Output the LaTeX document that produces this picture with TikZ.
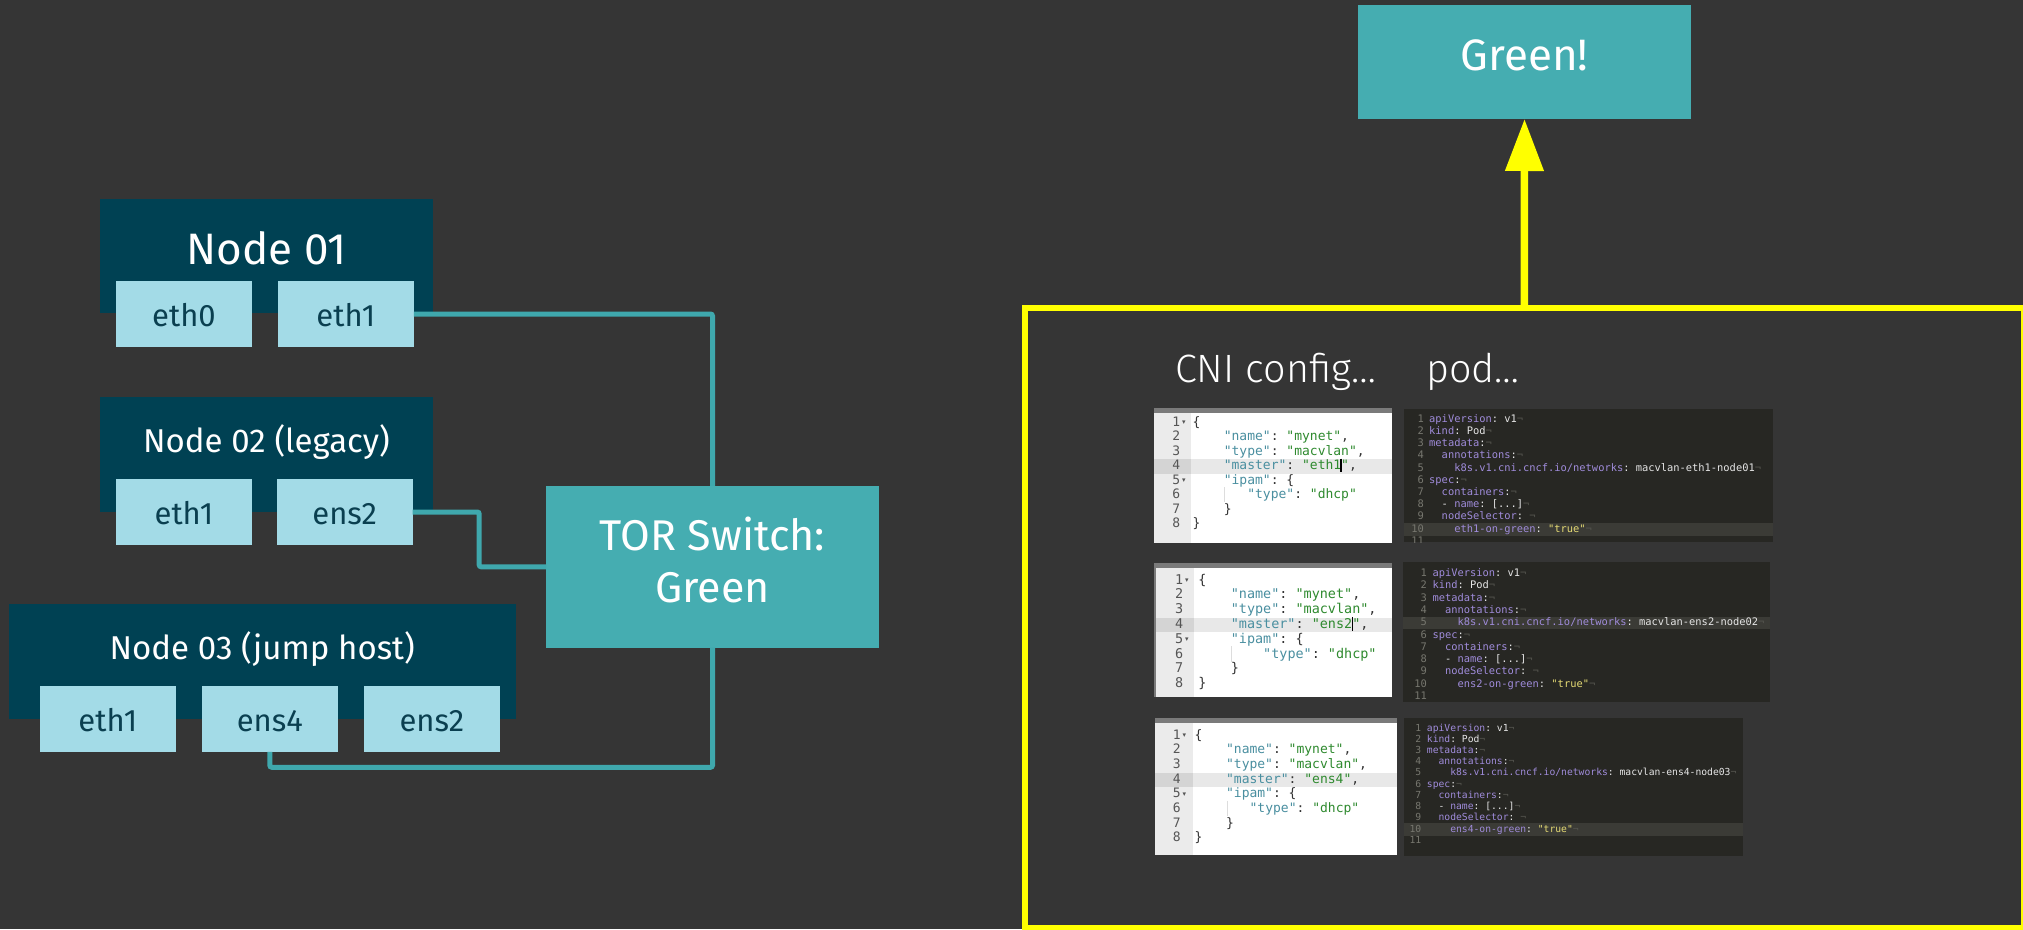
\documentclass[tikz,border=0pt]{standalone}
\usepackage{fontspec}
\setmainfont{Fira Sans}
\setmonofont{DejaVu Sans Mono}
\newfontfamily\symfont{DejaVu Sans}
\IfFontExistsTF{Fira Sans Light}{\newfontfamily\lightfont{Fira Sans Light}}{\newfontfamily\lightfont{Fira Sans}}
\usetikzlibrary{arrows.meta,calc}

\definecolor{bgc}{HTML}{353535}
\definecolor{hostc}{HTML}{004153}
\definecolor{ifc}{HTML}{A3DBE7}
\definecolor{iftext}{HTML}{0A3F50}
\definecolor{tealc}{HTML}{45ADB1}
\definecolor{wirec}{HTML}{3FA8AD}
\definecolor{ylw}{HTML}{FFFF00}
% JSON editor colours
\definecolor{jkeyc}{HTML}{4A8FA0}
\definecolor{jvalc}{HTML}{2F8A2F}
\definecolor{jpc}{HTML}{333333}
\definecolor{jnumc}{HTML}{555555}
\definecolor{jgutc}{HTML}{EBEBEB}
\definecolor{jhlc}{HTML}{E8E8E8}
\definecolor{jguthlc}{HTML}{D4D4D4}
\definecolor{jbarc}{HTML}{7A7A7A}
\definecolor{jguidec}{HTML}{DDDDDD}
% YAML editor colours
\definecolor{ybgc}{HTML}{272723}
\definecolor{yhlc}{HTML}{3B3B36}
\definecolor{ykeyc}{HTML}{A08CDB}
\definecolor{yvalc}{HTML}{E6E6E6}
\definecolor{ystrc}{HTML}{E6DB74}
\definecolor{ynumc}{HTML}{77776F}
\definecolor{yeolc}{HTML}{55554F}

\newcommand\jk[1]{\textcolor{jkeyc}{#1}}
\newcommand\jv[1]{\textcolor{jvalc}{#1}}
\newcommand\jp[1]{\textcolor{jpc}{#1}}
\newcommand\yk[1]{\textcolor{ykeyc}{#1}}
\newcommand\yv[1]{\textcolor{yvalc}{#1}}
\newcommand\ys[1]{\textcolor{ystrc}{#1}}
\newcommand\ye{\textcolor{yeolc}{¬}}

\newcounter{codeln}
\newcommand\codeline[3][]{\stepcounter{codeln}\node[#1] (cl\arabic{codeln}) at (#2) {#3};}

\tikzset{
  hostbox/.style={fill=hostc, inner sep=0pt, outer sep=0pt},
  ifbox/.style={fill=ifc, text=iftext, minimum width=136pt, minimum height=65.5pt,
    inner sep=0pt, outer sep=0pt, font=\fontsize{31}{31}\selectfont,
    text height=25pt, text depth=0pt},
  tealbox/.style={fill=tealc, inner sep=0pt, outer sep=0pt},
  bigttl/.style={text=white, inner sep=0pt, anchor=base, font=\fontsize{44}{44}\selectfont},
  hostttl/.style={text=white, inner sep=0pt, anchor=base, font=\fontsize{33}{33}\selectfont},
  lightttl/.style={text=white, inner sep=0pt, anchor=base west, font=\lightfont\fontsize{39.5}{39.5}\selectfont},
  wire/.style={draw=wirec, line width=5pt, rounded corners=2pt},
  yarrow/.style={draw=ylw, line width=7.5pt, -{Triangle[length=52pt,width=37pt]}},
  jtxt/.style={inner sep=0pt, anchor=base west, font=\ttfamily\fontsize{\jfs}{\jfs}\selectfont},
  jnum/.style={inner sep=0pt, anchor=base east, text=jnumc, font=\ttfamily\fontsize{\jfs}{\jfs}\selectfont},
  jfold/.style={inner sep=0pt, anchor=base west, text=jnumc, font=\symfont\fontsize{7}{7}\selectfont},
  ytxt/.style={inner sep=0pt, anchor=base west, font=\ttfamily\fontsize{\yfs}{\yfs}\selectfont},
  ynum/.style={inner sep=0pt, anchor=base east, text=ynumc, font=\ttfamily\fontsize{\yfs}{\yfs}\selectfont},
}

% JSON editor panel: left, top, right, bottom, gutter edge, master interface
\newcommand\jsonpanel[6]{%
  \fill[white] (#1,#2) rectangle (#3,#4);
  \fill[jgutc] (#1,#2) rectangle (#5,#4);
  \fill[jhlc] (#5,{\bl+3*\ls-10.5}) rectangle (#3,{\bl+3*\ls+4});
  \fill[jguthlc] (#1,{\bl+3*\ls-10.5}) rectangle (#5,{\bl+3*\ls+4});
  \fill[jbarc] (#1,#2) rectangle (#3,{#2+4.5});
  \draw[jguidec, line width=0.8pt] ({\xz+4*\cw+1},{\bl+4*\ls+3}) -- ({\xz+4*\cw+1},{\bl+6*\ls-11});
  \foreach \i in {1,...,8} {\codeline[jnum]{{\nr},{\bl+(\i-1)*\ls}}{\i}}
  \codeline[jfold]{{\nr+1.5},{\bl-1.5}}{▾}
  \codeline[jfold]{{\nr+1.5},{\bl+4*\ls-1.5}}{▾}
  \codeline[jtxt]{{\xz},{\bl}}{\jp{\{}}
  \codeline[jtxt]{{\xz+4*\cw},{\bl+\ls}}{\jk{"name"}\jp{: }\jv{"mynet"}\jp{,}}
  \codeline[jtxt]{{\xz+4*\cw},{\bl+2*\ls}}{\jk{"type"}\jp{: }\jv{"macvlan"}\jp{,}}
  \codeline[jtxt]{{\xz+4*\cw},{\bl+3*\ls}}{\jk{"master"}\jp{: }\jv{"#6"}\jp{,}}
  \codeline[jtxt]{{\xz+4*\cw},{\bl+4*\ls}}{\jk{"ipam"}\jp{: \{}}
  \codeline[jtxt]{{\xz+\icol*\cw},{\bl+5*\ls}}{\jk{"type"}\jp{: }\jv{"dhcp"}}
  \codeline[jtxt]{{\xz+4*\cw},{\bl+6*\ls}}{\jp{\}}}
  \codeline[jtxt]{{\xz},{\bl+7*\ls}}{\jp{\}}}
}

% YAML editor panel: left, top, right, bottom, interface, node
\newcommand\yamlpanel[6]{%
  \fill[ybgc] (#1,#2) rectangle (#3,#4);
  \begin{scope}
    \clip (#1,#2) rectangle (#3,#4);
    \fill[yhlc] (#1,{\ybl+(\yhr-1)*\yls-9}) rectangle (#3,{\ybl+(\yhr-1)*\yls+3.5});
    \foreach \i in {1,...,11} {\codeline[ynum]{{\ynr},{\ybl+(\i-1)*\yls}}{\i}}
    \codeline[ytxt]{{\yx},{\ybl}}{\yk{apiVersion}\yv{: v1}\ye}
    \codeline[ytxt]{{\yx},{\ybl+\yls}}{\yk{kind}\yv{: Pod}\ye}
    \codeline[ytxt]{{\yx},{\ybl+2*\yls}}{\yk{metadata}\yv{:}\ye}
    \codeline[ytxt]{{\yx+2*\ycw},{\ybl+3*\yls}}{\yk{annotations}\yv{:}\ye}
    \codeline[ytxt]{{\yx+4*\ycw},{\ybl+4*\yls}}{\yk{k8s.v1.cni.cncf.io/networks}\yv{: macvlan-#5-#6}\ye}
    \codeline[ytxt]{{\yx},{\ybl+5*\yls}}{\yk{spec}\yv{:}\ye}
    \codeline[ytxt]{{\yx+2*\ycw},{\ybl+6*\yls}}{\yk{containers}\yv{:}\ye}
    \codeline[ytxt]{{\yx+2*\ycw},{\ybl+7*\yls}}{\yv{- }\yk{name}\yv{: [...]}\ye}
    \codeline[ytxt]{{\yx+2*\ycw},{\ybl+8*\yls}}{\yk{nodeSelector}\yv{: }\ye}
    \codeline[ytxt]{{\yx+4*\ycw},{\ybl+9*\yls}}{\yk{#5-on-green}\yv{: }\ys{"true"}\ye}
  \end{scope}
}

\begin{document}
\begin{tikzpicture}[x=1pt,y=-1pt]
\useasboundingbox (0,0) rectangle (2023,929);
\fill[bgc] (0,0) rectangle (2023,929);

% hosts
\node[hostbox, minimum width=333pt, minimum height=114pt] (host1) at (266.5,256) {};
\node[hostbox, minimum width=333pt, minimum height=114.4pt] (host2) at (266.5,454.6) {};
\node[hostbox, minimum width=506.5pt, minimum height=114.8pt] (host3) at (262.25,661.4) {};
\node[bigttl] (host1t) at (266.5,264) {Node 01};
\node[hostttl] (host2t) at (266.5,452.5) {Node 02 (legacy)};
\node[hostttl] (host3t) at (262.25,659) {Node 03 (jump host)};

% interfaces
\node[ifbox] (h1eth0) at (184,314) {eth0};
\node[ifbox] (h1eth1) at (345.8,314) {eth1};
\node[ifbox] (h2eth1) at (184,512) {eth1};
\node[ifbox] (h2ens2) at (344.7,512) {ens2};
\node[ifbox] (h3eth1) at (107.8,719) {eth1};
\node[ifbox] (h3ens4) at (269.8,719) {ens4};
\node[ifbox] (h3ens2) at (431.8,719) {ens2};

% top-of-rack switch
\node[tealbox, minimum width=333pt, minimum height=161.7pt] (tor) at (712.5,566.8) {};
\node[bigttl, font=\fontsize{43}{43}\selectfont] (torl1) at (712.5,550.7) {TOR Switch:};
\node[bigttl, font=\fontsize{43}{43}\selectfont] (torl2) at (712.5,602) {Green};

% cabling
\draw[wire] (h1eth1.east) -| (tor.north);
\draw[wire] (h2ens2.east) -- ++(66.5,0) |- (tor.west);
\draw[wire] (h3ens4.south) -- ++(0,15.5) -| (tor.south);

% result
\node[tealbox, minimum width=333pt, minimum height=114pt] (green) at (1524.5,62) {};
\node[bigttl] (greenl) at (1524.5,70.7) {Green!};
\node[draw=ylw, line width=6pt, minimum width=999.5pt, minimum height=620pt,
      inner sep=0pt, outer sep=0pt] (frame) at (1524.25,618) {};
\draw[yarrow] (frame.north) -- (green.south);

\node[lightttl] (cnit) at (1175,382) {CNI config…};
\node[lightttl] (podt) at (1426,382) {pod…};

% CNI configurations
\def\jfs{13}\def\xz{1192.3}\def\cw{7.83}\def\nr{1180.5}\def\bl{426}\def\ls{14.57}\def\icol{7}
\jsonpanel{1154}{408}{1392}{543}{1190.7}{eth1}
\draw[black, line width=1.2pt] ({\xz+19*\cw},{\bl+3*\ls-11}) -- ({\xz+19*\cw},{\bl+3*\ls+2.5});

\def\jfs{13.45}\def\xz{1198.2}\def\cw{8.1}\def\nr{1183.3}\def\bl{584}\def\ls{14.8}\def\icol{8}
\jsonpanel{1154}{563}{1392}{697}{1194}{ens2}
\fill[jbarc] (1154,563) rectangle (1156,697);
\draw[black, line width=1.2pt] ({\xz+19*\cw},{\bl+3*\ls-11}) -- ({\xz+19*\cw},{\bl+3*\ls+2.5});

\def\jfs{13}\def\xz{1194.5}\def\cw{7.85}\def\nr{1181}\def\bl{739}\def\ls{14.7}\def\icol{7}
\jsonpanel{1155}{718}{1397}{855}{1192.7}{ens4}

% pod definitions
\def\yfs{10.4}\def\ycw{6.26}\def\yx{1429}\def\ynr{1424}\def\ybl{422.3}\def\yls{12.2}\def\yhr{10}
\yamlpanel{1404}{409}{1773}{542}{eth1}{node01}

\def\yfs{10.4}\def\ycw{6.26}\def\yx{1432.3}\def\ynr{1427}\def\ybl{576.7}\def\yls{12.26}\def\yhr{5}
\yamlpanel{1403}{562}{1770}{701.7}{ens2}{node02}

\def\yfs{9.7}\def\ycw{5.84}\def\yx{1426.7}\def\ynr{1421.5}\def\ybl{731}\def\yls{11.23}\def\yhr{10}
\yamlpanel{1404}{718}{1743}{856}{ens4}{node03}
\end{tikzpicture}
\end{document}
